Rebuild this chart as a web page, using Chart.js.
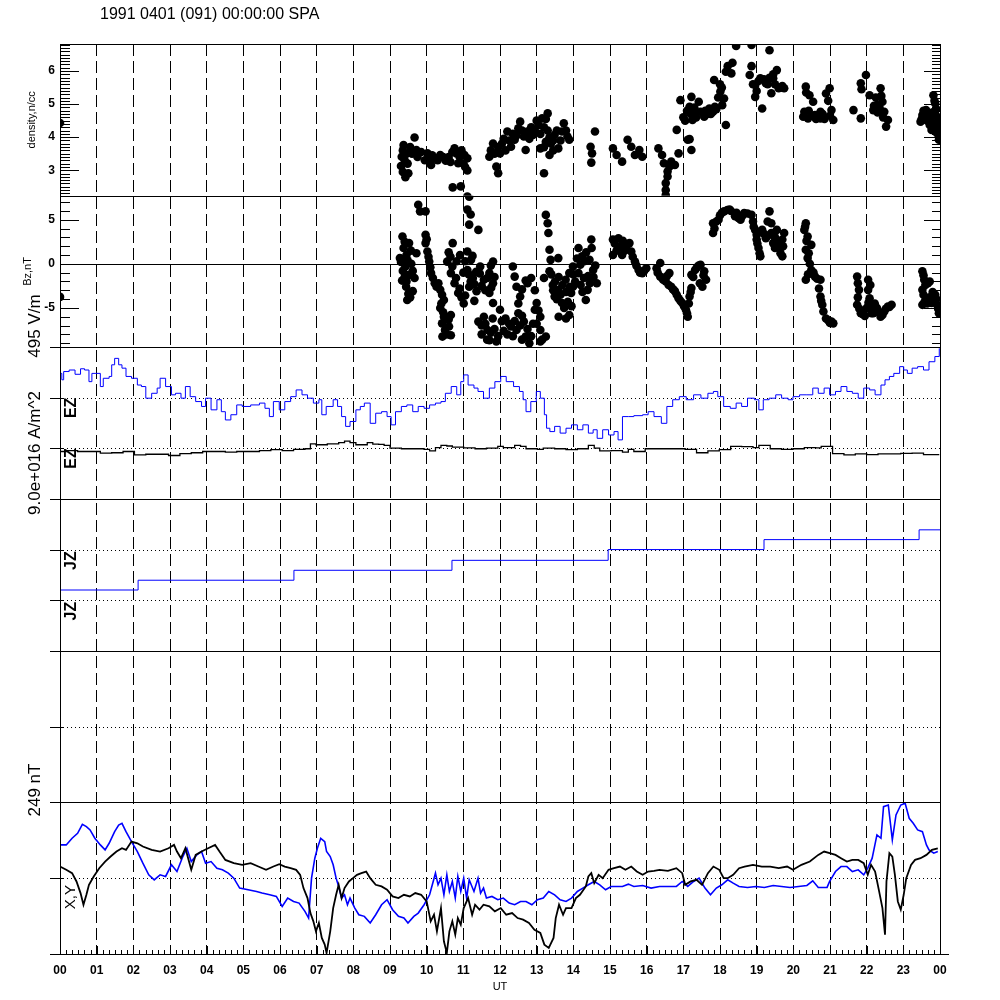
<!DOCTYPE html>
<html>
<head>
<meta charset="utf-8">
<script src="https://cdn.jsdelivr.net/npm/chart.js"></script>
<style>
  html, body { margin: 0; padding: 0; background: #fff; }
  #contenedor { width: 1000px; height: 1000px; }
</style>
</head>
<body>
<div id="contenedor"><canvas id="grafico" width="1000" height="1000"></canvas></div>
<script>
// ---- datos (hora UT, valor) ----
const titulo = '1991 0401 (091) 00:00:00 SPA';

const densidadTicks = [3, 4, 5, 6];
const bzTicks = [-5, 0, 5];

// densidad n/cc
const densidad = [
  [0.0,4.43],
  [9.37,3.76],[9.67,3.99],[9.32,3.41],[9.30,3.13],[9.50,2.91],[9.42,2.79],[9.72,3.61],[10.02,3.51],[10.12,3.16],[10.22,3.36],
  [10.37,3.46],[10.52,3.29],[10.76,3.66],[10.81,3.51],[10.86,3.21],[11.03,3.46],[11.11,3.36],[11.11,2.99],[10.71,2.48],[10.93,2.51],[11.11,2.20],
  [9.35,3.6],[9.4,3.3],[9.45,3.5],[9.55,3.7],[9.6,3.5],[9.75,3.4],[9.85,3.55],[9.95,3.3],[10.05,3.3],[10.15,3.45],[10.3,3.3],
  [10.45,3.4],[10.6,3.4],[10.7,3.55],[10.9,3.4],[10.95,3.6],[11.0,3.2],[11.05,3.1],[10.65,3.25],[9.48,3.2],[9.35,2.95],
  [11.71,3.41],[11.81,3.81],[11.90,3.11],[11.95,2.91],[12.00,3.51],[12.20,4.17],[12.30,3.71],[12.40,3.92],[12.50,4.27],[12.55,4.47],
  [12.65,4.02],[12.75,4.17],[12.70,3.61],[12.90,4.07],[13.05,4.37],[13.15,4.57],[13.30,4.72],[13.25,3.86],[13.39,3.81],[13.49,4.07],
  [13.59,3.66],[13.74,4.42],[13.69,4.17],[13.84,4.02],[13.89,3.92],[13.20,2.91],[13.10,3.66],[13.35,3.46],
  [11.75,3.6],[11.85,3.5],[11.95,3.7],[12.05,3.8],[12.1,3.95],[12.15,3.6],[12.25,3.9],[12.35,4.1],[12.45,4.05],[12.6,4.2],
  [12.8,3.95],[12.85,4.3],[12.95,4.2],[13.0,4.5],[13.1,4.1],[13.2,4.3],[13.25,4.55],[13.3,4.2],[13.35,4.0],[13.45,3.9],
  [13.55,4.2],[13.65,3.9],[13.8,4.2],[13.45,3.6],[13.2,3.7],
  [14.59,4.17],[14.47,3.71],[14.51,3.51],[14.49,3.23],
  [15.08,3.66],[15.18,3.46],[15.33,3.26],[15.48,3.92],[15.58,3.71],[15.68,3.46],[15.88,3.41],[15.80,3.61],
  [16.32,3.66],[16.42,3.46],[16.47,3.21],[16.57,2.96],[16.62,3.11],[16.67,3.26],[16.57,2.81],[16.52,2.61],[16.52,2.40],[16.52,2.25],
  [16.77,3.16],[16.87,3.51],[16.82,4.22],[16.92,5.12],[17.12,3.92],[17.22,3.61],[17.17,3.94],
  [17.22,5.22],[17.17,4.92],[17.27,4.67],[17.25,4.52],[17.42,5.07],[17.47,4.77],[17.57,4.62],[17.71,4.87],[17.81,4.77],[17.86,4.92],
  [17.84,5.73],[18.01,5.38],[18.11,5.17],[18.06,4.97],[18.16,4.37],[18.16,5.98],[18.21,6.15],[18.34,6.25],[18.31,5.93],[18.44,6.76],
  [17.0,4.6],[17.1,4.8],[17.2,4.7],[17.35,4.75],[17.3,4.9],[17.6,4.8],[17.65,4.7],[17.75,4.7],[17.9,4.85],[17.95,5.2],
  [18.0,5.6],[18.05,5.5],[17.05,4.5],[17.35,4.6],
  [18.86,6.79],[18.86,6.15],[18.81,5.88],[18.96,5.58],[18.96,5.22],[19.15,4.87],[19.10,5.78],[19.25,5.63],[19.35,6.63],[19.45,5.78],
  [19.55,6.03],[19.60,5.48],[19.75,5.48],[19.40,5.33],
  [18.9,5.6],[19.0,5.4],[19.05,5.7],[19.2,5.75],[19.3,5.6],[19.35,5.8],[19.5,5.6],[19.65,5.5],[19.7,5.55],[19.45,5.9],
  [20.34,5.53],[20.44,5.27],[20.54,5.07],[20.30,4.77],[20.40,4.57],[20.59,4.67],[20.74,4.77],[20.89,5.32],[20.99,5.48],[21.04,4.82],
  [21.09,4.52],[20.74,4.57],
  [20.35,5.35],[20.42,4.8],[20.5,4.65],[20.62,4.55],[20.68,4.6],[20.8,4.7],[20.85,4.55],[20.95,5.1],[21.0,4.65],[20.27,4.62],
  [21.64,4.82],[21.84,4.57],[21.84,5.63],[21.98,5.88],[22.08,5.27],[22.28,4.97],[22.38,5.48],[22.43,5.07],[22.48,4.77],[22.58,4.52],
  [22.53,4.32],[22.18,4.82],
  [21.86,5.45],[22.2,4.95],[22.25,5.2],[22.3,4.75],[22.35,4.9],[22.4,5.25],[22.45,4.6],
  [23.52,4.67],[23.47,4.47],[23.62,4.82],[23.72,4.37],[23.82,5.27],[23.87,5.02],[23.92,4.62],[23.92,4.12],[23.97,3.92],[23.77,4.22],[24.0,4.47],
  [23.5,4.55],[23.55,4.8],[23.6,4.6],[23.65,4.5],[23.7,4.65],[23.75,4.5],[23.8,4.75],[23.85,4.4],[23.9,4.85],[23.95,4.3],
  [23.85,5.1],[24.0,4.1]
];

// Bz nT
const bz = [
  [0,-3.75],
  [9.77,6.7],[9.82,5.95],[9.97,5.95],[9.34,3.1],[9.52,2.35],[9.37,1.8],[9.72,1.2],[9.27,0.65],[9.42,-0.3],[9.52,-1.25],[9.67,-1.6],
  [9.44,-2.6],[9.62,-3.1],[9.47,-4.1],
  [9.30,0.2],[9.35,-0.8],[9.40,-1.5],[9.45,-2.0],[9.50,-3.4],[9.55,-3.8],[9.40,2.5],[9.45,1.0],[9.58,0.0],[9.62,-0.8],[9.33,-1.9],
  [9.48,0.4],[9.57,1.5],
  [9.97,3.3],[9.97,2.35],[10.02,1.4],[10.07,0.25],[10.12,-1.05],[10.22,-2.2],[10.37,-2.95],[10.47,-4.1],[10.37,-5.0],[10.47,-6.0],
  [10.66,-5.8],[10.42,-6.75],[10.61,-7.1],[10.43,-8.25],[10.66,-8.1],
  [10.0,2.8],[10.05,0.8],[10.1,-0.4],[10.17,-1.6],[10.27,-2.6],[10.32,-2.2],[10.42,-3.5],[10.4,-4.5],[10.45,-5.5],[10.52,-6.3],
  [10.5,-7.5],[10.55,-8.0],[10.6,-6.3],
  [10.71,2.35],[10.56,0.25],[10.66,-1.05],[10.76,-2.2],[10.86,-3.3],[11.01,-4.5],[10.91,1.0],[11.11,1.4],[11.21,0.45],[11.11,-0.7],
  [11.26,-1.6],[11.16,-2.6],[11.36,-3.1],
  [10.6,1.3],[10.65,0.8],[10.7,-0.3],[10.8,-1.6],[10.82,0.3],[10.9,-2.8],[10.95,-3.8],[11.0,-1.0],[11.05,0.3],[11.15,-1.2],
  [11.2,-2.0],[11.3,-2.3],[11.35,-0.9],[11.25,0.9],[11.05,-3.6],[11.3,-4.2],[11.2,5.6],
  [11.16,7.6],[11.11,6.15],[11.16,4.45],[11.41,3.85],[11.46,-0.3],[11.56,-1.8],[11.71,-1.05],[11.81,0.25],[11.81,-2.2],[11.71,-3.3],
  [11.81,-4.45],[11.56,-6.0],[11.41,-6.55],[11.66,-7.5],[11.71,-8.65],[11.9,-8.8],
  [11.45,-1.1],[11.5,-2.5],[11.6,-3.0],[11.65,-1.6],[11.75,-0.2],[11.76,-2.7],[11.85,-1.5],[11.6,-6.8],[11.5,-7.0],[11.75,-7.8],
  [11.8,-6.2],[11.85,-7.4],[11.95,-8.2],[11.65,-8.6],[11.5,-8.0],
  [12.0,-5.2],[12.15,-6.2],[12.30,-7.1],[12.50,-5.6],[12.65,-6.55],[12.70,-8.25],[12.80,-9.0],[12.35,-0.3],[12.40,-1.45],[12.45,-2.6],
  [12.55,-3.7],[12.75,-2.2],[12.85,-1.6],[12.95,-3.0],[13.0,-4.45],[13.1,-6.0],[13.1,-7.5],[13.25,-8.25],[13.1,-8.8],
  [12.05,-6.5],[12.1,-7.6],[12.2,-8.0],[12.25,-6.8],[12.35,-8.2],[12.4,-6.5],[12.45,-7.5],[12.55,-7.0],[12.6,-5.9],[12.6,-8.6],
  [12.75,-7.4],[12.85,-8.2],[12.9,-6.8],[12.95,-5.2],[13.05,-5.3],[13.0,-6.8],[13.15,-8.6],[12.5,-4.5],[12.6,-2.9],[12.7,-1.9],
  [13.25,5.55],[13.30,4.6],[13.32,3.5],[13.35,1.6],[13.38,0.45],[13.2,-1.6],[13.35,-0.85],[13.59,0.65],[13.44,-2.4],[13.49,-3.7],
  [13.59,-2.95],[13.69,-4.45],[13.89,-5.8],[13.89,-1.05],[13.99,-0.3],[13.79,-1.8],
  [13.4,-1.2],[13.45,-3.0],[13.5,-2.0],[13.55,-4.0],[13.6,-1.5],[13.65,-3.5],[13.7,-2.4],[13.75,-5.0],[13.8,-3.2],[13.85,-4.3],
  [13.9,-2.6],[13.95,-4.8],[14.0,-1.2],[14.05,-2.0],[14.1,0.6],[14.2,-2.4],[14.25,-3.2],[14.3,0.3],[14.35,1.3],[14.4,-1.4],
  [14.45,-2.2],[14.5,1.8],[14.55,-1.5],[14.6,-0.2],[13.8,-6.2],[13.6,-6.0],
  [14.14,1.8],[14.24,0.85],[14.19,-0.1],[14.14,-1.05],[14.29,-1.6],[14.39,-2.95],[14.34,-4.1],[14.49,2.75],[14.44,0.45],[14.54,-0.7],
  [14.64,-2.2],[13.99,-2.6],[13.94,-3.3],
  [15.08,2.75],[15.23,2.9],[15.28,1.95],[15.08,1.0],[15.33,1.0],[15.53,2.35],[15.58,1.4],[15.68,0.25],[15.78,-0.7],[15.88,-1.05],[15.99,-0.5],
  [15.13,2.3],[15.18,1.5],[15.35,2.6],[15.45,2.0],[15.62,0.8],[15.72,-0.2],[15.82,-1.0],[15.93,-0.8],[15.4,1.5],
  [16.27,-0.5],[16.37,0.1],[16.37,-1.45],[16.52,-2.0],[16.62,-1.05],[16.67,-2.6],[16.77,-3.1],[16.87,-3.9],[16.97,-4.45],[17.07,-5.2],
  [17.12,-6.0],[17.17,-3.7],[17.22,-2.75],[17.22,-1.25],[17.32,-0.7],[17.47,-0.1],[17.57,-0.85],[17.62,-1.8],[17.52,-2.6],
  [16.3,-1.0],[16.45,-1.8],[16.55,-1.4],[16.6,-2.4],[16.72,-2.9],[16.82,-3.5],[16.92,-4.2],[17.02,-4.8],[17.1,-5.6],[17.27,-1.5],
  [17.37,-0.4],[17.42,-0.2],[17.55,-1.3],[17.45,-2.2],[17.2,-3.2],[17.15,-4.5],
  [17.81,3.5],[17.81,4.6],[17.96,5.0],[18.11,5.95],[18.26,6.15],[18.41,5.4],[18.56,5.0],[18.66,5.75],[18.86,5.55],[18.96,3.85],
  [19.0,2.75],[19.05,1.8],[19.10,0.85],[19.15,3.85],[19.25,2.9],[19.35,5.95],[19.40,4.6],[19.45,2.35],[19.55,3.85],[19.65,1.8],
  [19.70,0.85],[19.75,3.5],[19.70,2.75],
  [17.85,4.0],[17.9,4.8],[18.0,5.5],[18.05,5.8],[18.2,6.1],[18.3,6.0],[18.45,5.8],[18.5,5.2],[18.6,5.4],[18.75,5.7],[18.9,4.8],
  [18.92,4.2],[19.0,3.3],[19.02,2.3],[19.08,1.2],[19.2,3.4],[19.3,4.8],[19.3,3.2],[19.4,3.5],[19.5,3.0],[19.5,1.8],[19.6,2.5],
  [19.65,1.2],[19.72,2.0],
  [20.34,4.6],[20.30,3.85],[20.39,3.1],[20.49,2.15],[20.34,1.6],[20.39,0.65],[20.49,-0.7],[20.34,-1.8],[20.59,-1.45],[20.74,-1.8],
  [20.74,-3.7],[20.79,-4.65],[20.89,-6.2],[21.04,-6.55],[21.09,-6.75],
  [20.32,4.2],[20.36,2.6],[20.42,1.2],[20.45,0.0],[20.4,-1.2],[20.55,-1.0],[20.65,-1.7],[20.7,-2.8],[20.76,-4.2],[20.82,-5.4],
  [20.95,-6.4],[21.0,-6.7],
  [21.74,-1.45],[21.79,-2.95],[21.74,-4.65],[21.84,-5.6],[22.04,-1.8],[22.04,-2.95],[22.08,-3.9],[22.13,-5.6],[22.28,-5.0],[22.48,-5.4],
  [22.58,-4.85],[22.68,-4.65],[22.38,-6.0],
  [21.76,-2.2],[21.76,-3.8],[21.8,-5.1],[21.9,-5.7],[22.0,-5.0],[22.05,-4.4],[22.1,-4.8],[22.18,-5.6],[22.22,-4.5],[22.33,-5.5],
  [22.43,-5.8],[22.52,-5.1],[22.62,-4.9],[22.1,-2.4],[21.95,-5.9],
  [23.52,-0.85],[23.57,-1.8],[23.72,-2.0],[23.52,-2.95],[23.62,-3.9],[23.52,-4.65],[23.77,-4.45],[23.87,-3.5],[23.92,-4.65],[23.97,-5.6],
  [23.55,-1.3],[23.6,-2.4],[23.67,-2.2],[23.55,-3.5],[23.58,-4.3],[23.65,-4.5],[23.72,-3.8],[23.82,-4.0],[23.9,-4.0],[23.95,-5.1],
  [24.0,-5.3],[23.8,-3.2]
];

// EZ V/m (desviación sobre su línea base)
const ezAzul = [
  [0.0,80],[0.05,59],[0.10,86],[0.25,91],[0.41,77],[0.56,95],[0.67,91],[0.79,53],[0.87,80],[0.98,80],[1.10,37],[1.18,64],[1.34,70],
  [1.41,108],[1.49,129],[1.60,108],[1.69,97],[1.80,70],[1.95,64],[2.11,42],[2.22,37],[2.34,-1],[2.50,15],[2.65,32],[2.73,64],[2.88,37],
  [3.04,10],[3.15,15],[3.30,-1],[3.42,37],[3.55,4],[3.70,-12],[3.86,-28],[3.97,-1],[4.12,-39],[4.28,-6],[4.40,-45],[4.51,-72],[4.66,-55],
  [4.82,-23],[4.97,-28],[5.20,-23],[5.44,-17],[5.59,-34],[5.71,-61],[5.82,-12],[5.98,-39],[6.13,-12],[6.29,4],[6.44,26],[6.60,10],
  [6.75,-1],[6.91,-17],[7.06,-6],[7.14,-55],[7.26,-28],[7.45,-6],[7.57,-28],[7.68,-61],[7.79,-93],[7.91,-77],[8.07,-39],[8.19,-28],
  [8.30,-17],[8.46,-83],[8.61,-50],[8.77,-45],[8.92,-61],[9.03,-88],[9.15,-45],[9.31,-28],[9.46,-23],[9.62,-45],[9.77,-28],[9.93,-34],
  [10.08,-23],[10.24,-17],[10.39,-12],[10.51,15],[10.67,37],[10.82,10],[10.93,53],[11.01,75],[11.13,42],[11.29,32],[11.40,21],
  [11.55,-1],[11.71,32],[11.86,53],[12.02,70],[12.17,53],[12.37,37],[12.53,21],[12.63,-6],[12.71,-45],[12.84,-12],[12.99,21],
  [13.10,-1],[13.21,-55],[13.27,-99],[13.36,-110],[13.49,-93],[13.64,-115],[13.80,-99],[13.95,-88],[14.11,-104],[14.26,-88],
  [14.41,-115],[14.54,-104],[14.65,-132],[14.80,-104],[14.96,-121],[15.11,-110],[15.22,-137],[15.34,-61],[15.50,-61],[15.65,-58],
  [15.89,-55],[16.04,-45],[16.20,-61],[16.40,-83],[16.55,-28],[16.71,-6],[16.89,4],[17.08,-6],[17.28,10],[17.48,-1],[17.67,15],
  [17.82,21],[17.94,4],[18.10,-28],[18.28,-34],[18.44,-17],[18.59,-28],[18.75,-1],[18.94,-6],[19.06,-39],[19.18,-6],[19.34,-1],
  [19.52,10],[19.68,-1],[19.86,-6],[19.99,4],[20.17,10],[20.37,10],[20.53,32],[20.68,15],[20.84,32],[20.99,10],[21.15,21],[21.30,37],
  [21.46,21],[21.61,15],[21.77,-1],[21.92,32],[22.08,26],[22.23,10],[22.39,42],[22.50,59],[22.62,70],[22.74,80],[22.90,102],
  [23.01,91],[23.11,80],[23.24,97],[23.39,102],[23.55,91],[23.70,118],[23.86,135],[23.98,162]
];
const ezNegro = [
  [0,-10],[0.17,-7],[0.48,-10],[0.79,-10],[1.10,-15],[1.41,-14],[1.72,-10],[2.03,-21],[2.34,-19],[2.65,-19],[2.96,-23],[3.27,-17],
  [3.58,-14],[3.89,-10],[4.20,-10],[4.51,-12],[4.82,-10],[5.13,-10],[5.44,-7],[5.75,-4],[6.06,-7],[6.37,-3],[6.68,-1],[6.83,15],
  [6.98,12],[7.29,15],[7.60,19],[7.76,24],[7.91,19],[8.07,12],[8.22,12],[8.38,19],[8.53,14],[8.69,13],[8.84,10],[9.00,1],[9.31,-1],
  [9.62,-1],[9.93,-3],[10.08,-8],[10.24,3],[10.39,10],[10.55,8],[10.70,4],[11.01,2],[11.32,-1],[11.63,1],[11.94,7],[12.09,3],
  [12.25,3],[12.40,10],[12.56,7],[12.71,-1],[13.02,-3],[13.18,1],[13.49,-1],[13.80,-4],[14.11,-1],[14.41,10],[14.57,1],[14.72,-8],
  [15.03,-7],[15.34,-12],[15.50,-3],[15.65,-10],[15.96,-1],[16.27,-1],[16.58,-1],[16.89,-1],[17.05,-3],[17.36,-14],[17.67,-8],
  [17.98,-4],[18.29,7],[18.59,6],[18.90,3],[19.06,10],[19.37,-1],[19.68,-3],[19.99,-1],[20.30,3],[20.61,2],[20.76,7],[21.07,-17],
  [21.38,-21],[21.69,-18],[22.00,-20],[22.31,-18],[22.62,-18],[22.93,-16],[23.24,-15],[23.55,-20],[23.98,-20]
];

// JZ 1e16 A/m^2 (escalones)
const jzAzul = [[0,-2.40],[2.13,-1.82],[6.38,-1.23],[10.69,-0.64],[14.95,0.0],[19.2,0.59],[23.43,1.17],[24,1.17]];

// X, Y nT
const yAzul = [
  [0,54.6],[0.17,54.6],[0.33,65.5],[0.48,73.7],[0.61,88.4],[0.72,84.6],[0.82,79.2],[0.95,65.5],[1.10,54.6],[1.23,46.4],[1.34,57.3],
  [1.49,76.4],[1.60,87.3],[1.69,90.1],[1.80,76.4],[1.95,60.1],[2.11,43.7],[2.26,24.6],[2.42,5.5],[2.57,-2.7],[2.73,5.5],[2.88,2.8],
  [3.04,21.9],[3.19,10.9],[3.35,35.5],[3.46,49.1],[3.58,27.3],[3.73,38.2],[3.86,43.7],[3.97,24.6],[4.12,27.3],[4.28,16.4],[4.43,13.7],
  [4.59,8.2],[4.74,0.0],[4.90,-16.3],[5.13,-19.1],[5.36,-21.8],[5.51,-24.5],[5.72,-27.3],[5.90,-30.0],[6.06,-46.4],[6.21,-32.7],
  [6.37,-38.2],[6.52,-40.9],[6.68,-54.5],[6.78,-65.5],[6.86,0.0],[6.95,32.8],[7.02,49.1],[7.11,65.5],[7.22,60.1],[7.27,43.7],
  [7.37,35.5],[7.45,21.9],[7.53,0.0],[7.60,-13.6],[7.68,-32.7],[7.76,-27.3],[7.84,-43.6],[7.91,-32.7],[8.04,-49.1],[8.15,-60.0],
  [8.30,-62.7],[8.46,-73.6],[8.61,-60.0],[8.77,-43.6],[8.92,-35.4],[9.07,-51.8],[9.23,-62.7],[9.38,-65.5],[9.49,-73.6],[9.65,-62.7],
  [9.77,-57.3],[9.93,-43.6],[10.08,-27.3],[10.24,8.2],[10.31,-10.9],[10.39,0.0],[10.47,-27.3],[10.55,5.5],[10.62,-21.8],[10.70,-5.4],
  [10.78,-32.7],[10.85,2.8],[10.93,-21.8],[11.01,0.0],[11.09,-32.7],[11.16,-2.7],[11.29,-21.8],[11.40,0.0],[11.47,-24.5],
  [11.55,-16.3],[11.63,-32.7],[11.78,-30.0],[11.94,-35.4],[12.09,-32.7],[12.25,-40.9],[12.40,-43.6],[12.56,-38.2],[12.71,-38.2],
  [12.87,-43.6],[13.02,-35.4],[13.18,-32.7],[13.33,-21.8],[13.49,-27.3],[13.64,-35.4],[13.80,-38.2],[13.95,-32.7],[14.11,-21.8],
  [14.26,-16.3],[14.41,-10.9],[14.57,-5.4],[14.72,-10.9],[14.88,-19.1],[15.03,-13.6],[15.19,-13.6],[15.34,-13.6],[15.50,-9.8],
  [15.65,-13.6],[15.89,-12.0],[16.12,-16.3],[16.35,-13.6],[16.58,-13.6],[16.81,-13.6],[16.97,-5.4],[17.12,-13.6],[17.28,-5.4],
  [17.43,0.0],[17.59,-16.3],[17.74,-27.3],[17.90,-16.3],[18.05,-10.9],[18.21,-2.7],[18.36,-8.2],[18.52,-13.6],[18.75,-15.2],
  [18.98,-13.6],[19.21,-15.2],[19.45,-12.0],[19.68,-13.6],[19.91,-15.2],[20.14,-13.6],[20.37,-12.0],[20.53,-4.3],[20.68,-15.2],
  [20.92,-15.2],[20.99,-5.4],[21.15,10.9],[21.30,19.1],[21.46,19.1],[21.61,10.9],[21.77,13.7],[21.92,5.5],[22.03,16.4],[22.15,32.8],
  [22.28,71.0],[22.39,65.5],[22.46,117.4],[22.59,120.1],[22.70,62.8],[22.80,103.7],[22.93,120.1],[23.05,122.8],[23.16,98.3],
  [23.27,90.1],[23.39,79.2],[23.52,76.4],[23.63,54.6],[23.70,46.4],[23.83,41.0],[23.94,43.7]
];
const xNegro = [
  [0,19.1],[0.17,13.7],[0.33,8.2],[0.45,-5.4],[0.56,-24.5],[0.64,-43.6],[0.72,-27.3],[0.79,-10.9],[0.92,2.8],[1.07,16.4],[1.23,27.3],
  [1.38,35.5],[1.54,43.7],[1.69,49.1],[1.80,46.4],[1.95,60.1],[2.11,57.3],[2.26,51.9],[2.50,46.4],[2.73,43.7],[2.96,49.1],[3.11,54.6],
  [3.19,43.7],[3.30,32.8],[3.42,49.1],[3.58,13.7],[3.70,38.2],[3.86,43.7],[4.04,49.1],[4.23,54.6],[4.35,43.7],[4.51,30.0],[4.74,24.6],
  [4.97,21.9],[5.20,24.6],[5.41,19.1],[5.62,13.7],[5.82,19.1],[5.98,22.9],[6.13,19.1],[6.29,16.4],[6.44,13.7],[6.55,5.5],[6.64,-16.3],
  [6.75,-32.7],[6.83,-57.3],[6.91,-70.9],[6.98,-87.3],[7.06,-73.6],[7.14,-98.2],[7.22,-109.1],[7.27,-122.8],[7.37,-87.3],[7.45,-49.1],
  [7.53,-27.3],[7.60,-10.9],[7.68,-32.7],[7.76,-16.3],[7.88,-5.4],[7.99,0.0],[8.10,5.5],[8.22,8.2],[8.35,10.9],[8.46,0.0],[8.61,-10.9],
  [8.77,-13.6],[8.92,-19.1],[9.07,-30.0],[9.23,-32.7],[9.38,-27.3],[9.54,-30.0],[9.69,-24.5],[9.85,-27.3],[10.00,-38.2],[10.11,-70.9],
  [10.20,-60.0],[10.28,-87.3],[10.39,-49.1],[10.47,-103.7],[10.55,-122.8],[10.62,-87.3],[10.70,-70.9],[10.78,-92.7],[10.85,-65.5],
  [10.93,-76.4],[11.01,-49.1],[11.13,-32.7],[11.24,-60.0],[11.32,-43.6],[11.44,-51.8],[11.55,-43.6],[11.71,-46.4],[11.86,-54.5],
  [12.02,-49.1],[12.17,-60.0],[12.33,-57.3],[12.48,-65.5],[12.63,-68.2],[12.79,-73.6],[12.94,-84.6],[13.10,-90.0],[13.21,-109.1],
  [13.33,-114.6],[13.46,-98.2],[13.52,-65.5],[13.61,-43.6],[13.72,-60.0],[13.80,-49.1],[13.95,-49.1],[14.07,-32.7],[14.18,-27.3],
  [14.34,-13.6],[14.41,2.8],[14.49,8.2],[14.57,-8.2],[14.69,5.5],[14.80,0.0],[14.96,13.7],[15.11,16.4],[15.27,19.1],[15.42,13.7],
  [15.58,19.1],[15.73,10.9],[15.89,5.5],[16.04,10.9],[16.20,12.0],[16.35,13.7],[16.58,12.0],[16.81,16.4],[16.97,8.2],[17.05,-10.9],
  [17.20,-5.4],[17.36,-2.7],[17.51,-10.9],[17.67,8.2],[17.82,19.1],[17.98,13.7],[18.10,0.0],[18.21,0.0],[18.36,5.5],[18.52,16.4],
  [18.67,19.1],[18.90,21.9],[19.14,19.1],[19.37,19.1],[19.60,16.4],[19.83,19.1],[19.99,13.7],[20.22,21.9],[20.45,27.3],[20.68,38.2],
  [20.84,43.7],[20.99,41.0],[21.15,38.2],[21.30,32.8],[21.46,27.3],[21.61,30.0],[21.77,30.0],[21.92,24.6],[22.03,5.5],[22.12,21.9],
  [22.23,10.9],[22.34,-21.8],[22.43,-49.1],[22.50,-92.7],[22.54,-5.4],[22.62,41.0],[22.70,35.5],[22.77,5.5],[22.85,-38.2],
  [22.93,-51.8],[23.01,-27.3],[23.08,0.0],[23.21,21.9],[23.32,30.0],[23.47,32.8],[23.63,38.2],[23.78,46.4],[23.94,49.1]
];

// rangos y lineas base de cada panel
const densidadRango = [2.23, 6.82];
const bzRango = [-9.47, 7.73];
const ezRango = [0, 495];      // 495 V/m de alto
const ezBaseAzul = 330, ezBaseNegro = 165;
const jzRango = [0, 9];        // 9.0e+016 A/m^2 de alto
const jzBaseAzul = 6, jzBaseNegro = 3;
const vacioRango = [0, 2], vacioBase = 1;
const xyRango = [-124.5, 124.5]; // 249 nT de alto

const aXY = (arr, base = 0) => arr.map(([h, v]) => ({ x: h, y: v + base }));
const dosDigitos = v => String(v % 24).padStart(2, '0');

Chart.defaults.font.family = '"Liberation Sans", Arial, Helvetica, sans-serif';
Chart.defaults.color = '#000';

function textoVertical(ctx, txt, x, y, font) {
  ctx.save();
  ctx.translate(x, y);
  ctx.rotate(-Math.PI / 2);
  ctx.font = font;
  ctx.textAlign = 'center';
  ctx.textBaseline = 'middle';
  ctx.fillText(txt, 0, 0);
  ctx.restore();
}

function linea(ctx, x1, y1, x2, y2) {
  ctx.beginPath();
  ctx.moveTo(x1, y1);
  ctx.lineTo(x2, y2);
  ctx.stroke();
}

const marco = {
  id: 'marco',
  beforeDatasetsDraw(chart) {
    const { ctx, chartArea: a, scales: s } = chart;
    ctx.save();
    ctx.strokeStyle = '#000';
    ctx.lineWidth = 1;
    const bases = [
      [s.yEz, ezBaseAzul], [s.yEz, ezBaseNegro],
      [s.yJz, jzBaseAzul], [s.yJz, jzBaseNegro],
      [s.yVacio, vacioBase], [s.yXy, 0]
    ];
    bases.forEach(([sc, v]) => {
      const y = Math.round(sc.getPixelForValue(v)) + 0.5;
      ctx.setLineDash([]);
      linea(ctx, 50, y, a.left + 3, y);
      ctx.setLineDash([1, 3]);
      linea(ctx, a.left + 3, y, a.right, y);
    });
    ctx.setLineDash([]);
    const y0 = Math.round(s.yBz.getPixelForValue(0)) + 0.5;
    linea(ctx, a.left, y0, a.right, y0);
    ctx.restore();
  },
  afterDraw(chart) {
    const { ctx, chartArea: a, scales: s } = chart;
    ctx.save();
    ctx.strokeStyle = '#000';
    ctx.fillStyle = '#000';
    ctx.lineWidth = 1;
    const L = a.left + 0.5, R = a.right + 0.5;

    // bordes de paneles
    linea(ctx, a.left, Math.round(s.yDen.top) + 0.5, a.right, Math.round(s.yDen.top) + 0.5);
    linea(ctx, a.left, Math.round(s.yDen.bottom) + 0.5, a.right, Math.round(s.yDen.bottom) + 0.5);
    [s.yBz, s.yEz, s.yJz, s.yVacio].forEach(sc => {
      const y = Math.round(sc.bottom) + 0.5;
      linea(ctx, 50, y, a.right, y);
    });
    const yb = Math.round(a.bottom) + 0.5;
    linea(ctx, 50, yb, a.right + 9, yb);
    linea(ctx, L, a.top, L, a.bottom);
    linea(ctx, R, a.top, R, a.bottom);

    // ticks de densidad (cada 0.1)
    for (let k = 23; k <= 68; k++) {
      const y = Math.round(s.yDen.getPixelForValue(k / 10)) + 0.5;
      const mayor = k % 10 === 0;
      linea(ctx, a.left, y, a.left + (mayor ? 19 : 10), y);
      linea(ctx, a.right, y, a.right - (mayor ? 16 : 8), y);
    }
    // ticks de Bz (cada 1 nT)
    for (let k = -9; k <= 7; k++) {
      const y = Math.round(s.yBz.getPixelForValue(k)) + 0.5;
      const mayor = k % 5 === 0;
      linea(ctx, a.left, y, a.left + (mayor ? 19 : 10), y);
      linea(ctx, a.right, y, a.right - (mayor ? 16 : 8), y);
    }
    // ticks de tiempo (cada 10 min)
    for (let m = 0; m <= 144; m++) {
      const x = Math.round(s.x.getPixelForValue(m / 6)) + 0.5;
      linea(ctx, x, a.bottom, x, a.bottom - (m % 6 === 0 ? 8 : 4));
    }

    // textos
    ctx.font = '16px "Liberation Sans", Arial, sans-serif';
    ctx.textAlign = 'left';
    ctx.textBaseline = 'middle';
    ctx.fillText(titulo, 100, 15);

    const grande = '17px "Liberation Sans", Arial, sans-serif';
    textoVertical(ctx, '495 V/m', 35, 326, grande);
    textoVertical(ctx, '9.0e+016 A/m^2', 35, 453, grande);
    textoVertical(ctx, '249 nT', 35, 790, grande);

    const etiqueta = 'bold 16px "Liberation Sans", Arial, sans-serif';
    textoVertical(ctx, 'EZ', 72, s.yEz.getPixelForValue(ezBaseAzul) + 10, etiqueta);
    textoVertical(ctx, 'EZ', 72, s.yEz.getPixelForValue(ezBaseNegro) + 10, etiqueta);
    textoVertical(ctx, 'JZ', 72, s.yJz.getPixelForValue(jzBaseAzul) + 11, etiqueta);
    textoVertical(ctx, 'JZ', 72, s.yJz.getPixelForValue(jzBaseNegro) + 11, etiqueta);
    textoVertical(ctx, 'X,Y', 71, s.yXy.getPixelForValue(0) + 19, '15px "Liberation Sans", Arial, sans-serif');
    ctx.restore();
  }
};

function ejeY(rango, peso, extra) {
  return Object.assign({
    type: 'linear',
    position: 'left',
    stack: 'paneles',
    stackWeight: 1,
    weight: peso,
    min: rango[0],
    max: rango[1],
    grid: { display: false, drawTicks: false },
    border: { display: false },
    ticks: { display: false },
    afterFit: sc => { sc.width = 60; }
  }, extra);
}

const lineaBase = { showLine: true, pointRadius: 0, fill: false, xAxisID: 'x' };
const puntos = { xAxisID: 'x', pointRadius: 4.3, pointBackgroundColor: '#000', pointBorderWidth: 0, showLine: false };

new Chart(document.getElementById('grafico'), {
  type: 'scatter',
  data: {
    datasets: [
      Object.assign({ data: aXY(densidad), yAxisID: 'yDen' }, puntos),
      Object.assign({ data: aXY(bz), yAxisID: 'yBz' }, puntos),
      Object.assign({ data: aXY(ezAzul, ezBaseAzul), yAxisID: 'yEz', borderColor: '#0000ff', borderWidth: 1, stepped: true }, lineaBase),
      Object.assign({ data: aXY(ezNegro, ezBaseNegro), yAxisID: 'yEz', borderColor: '#000', borderWidth: 1.3, stepped: true }, lineaBase),
      Object.assign({ data: aXY(jzAzul, jzBaseAzul), yAxisID: 'yJz', borderColor: '#0000ff', borderWidth: 1, stepped: true }, lineaBase),
      Object.assign({ data: aXY(xNegro), yAxisID: 'yXy', borderColor: '#000', borderWidth: 1.8 }, lineaBase),
      Object.assign({ data: aXY(yAzul), yAxisID: 'yXy', borderColor: '#0000ff', borderWidth: 1.6 }, lineaBase)
    ]
  },
  options: {
    responsive: false,
    animation: false,
    devicePixelRatio: 1,
    events: [],
    layout: { padding: { top: 44, right: 60, bottom: 0, left: 0 } },
    plugins: { legend: { display: false }, tooltip: { enabled: false } },
    scales: {
      x: {
        type: 'linear',
        position: 'bottom',
        min: 0,
        max: 24,
        grid: {
          display: true,
          drawTicks: false,
          lineWidth: 1,
          color: c => (c.tick && c.tick.value > 0 && c.tick.value < 24) ? '#000' : 'rgba(0,0,0,0)'
        },
        border: { display: false, dash: [12, 5] },
        ticks: {
          stepSize: 1,
          autoSkip: false,
          maxRotation: 0,
          minRotation: 0,
          padding: 9,
          font: { size: 12, weight: 'bold' },
          callback: v => dosDigitos(v)
        },
        title: { display: true, text: 'UT', font: { size: 11 }, padding: { top: 0, bottom: 6 } },
        afterFit: sc => { sc.height = 46; }
      },
      yDen: ejeY(densidadRango, 6, {
        ticks: { display: true, padding: 5, font: { size: 12, weight: 'bold' } },
        afterBuildTicks: sc => { sc.ticks = densidadTicks.map(v => ({ value: v })); },
        title: { display: true, text: 'density,n/cc', font: { size: 11 }, padding: { top: 25, bottom: 0 } }
      }),
      yBz: ejeY(bzRango, 5, {
        ticks: { display: true, padding: 5, font: { size: 12, weight: 'bold' } },
        afterBuildTicks: sc => { sc.ticks = bzTicks.map(v => ({ value: v })); },
        title: { display: true, text: 'Bz,nT', font: { size: 11 }, padding: { top: 21, bottom: 0 } }
      }),
      yEz: ejeY(ezRango, 4),
      yJz: ejeY(jzRango, 3),
      yVacio: ejeY(vacioRango, 2),
      yXy: ejeY(xyRango, 1)
    }
  },
  plugins: [marco]
});
</script>
</body>
</html>
